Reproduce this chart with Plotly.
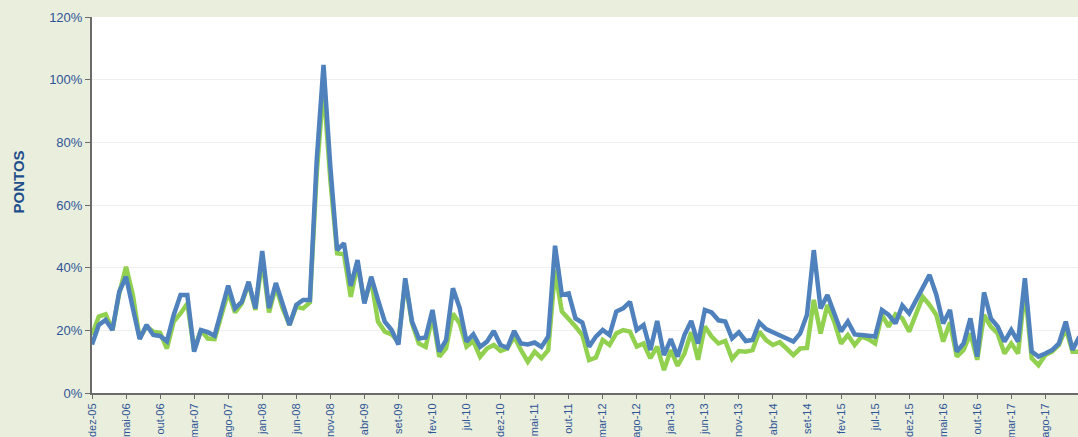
import plotly.graph_objects as go

# monthly series, dez-05 onwards (values in %)
month_names = ["jan", "fev", "mar", "abr", "mai", "jun",
               "jul", "ago", "set", "out", "nov", "dez"]
months = [f"{month_names[(11 + k) % 12]}-{(5 + (11 + k) // 12):02d}" for k in range(146)]

serie_verde = [
    18.5, 24.4, 25.1, 20.1, 31.8, 40.3, 31.3, 17.4, 21.2, 19.6,
    19.2, 14.2, 22.8, 25.4, 28.6, 13.7, 20.1, 17.4, 17.2, 24.9,
    32.3, 25.7, 28.6, 35.0, 26.5, 42.5, 25.7, 33.9, 27.0, 21.7,
    27.5, 27.0, 28.9, 70.0, 98.0, 68.0, 44.6, 44.3, 30.7, 41.1,
    29.0, 36.1, 22.8, 19.6, 18.7, 16.4, 35.6, 22.2, 15.8, 14.7,
    24.5, 11.6, 14.3, 25.4, 22.2, 14.8, 16.6, 11.6, 14.2, 15.3,
    13.4, 14.2, 18.0, 13.7, 10.0, 13.2, 11.1, 13.7, 39.3, 26.0,
    23.7, 21.2, 18.5, 10.5, 11.3, 16.9, 15.3, 19.0, 20.1, 19.6,
    14.8, 15.8, 11.1, 14.8, 7.3, 13.7, 8.7, 12.6, 19.4, 10.6,
    21.2, 18.0, 15.8, 16.6, 10.9, 13.4, 13.2, 13.7, 19.6, 16.9,
    15.3, 16.2, 14.2, 12.1, 14.2, 14.4, 29.7, 19.0, 28.1, 22.8,
    15.8, 18.5, 15.3, 18.0, 17.2, 15.8, 24.9, 21.2, 25.1, 23.8,
    19.6, 24.9, 30.7, 28.1, 24.9, 16.4, 22.5, 11.6, 13.7, 19.0,
    10.6, 24.9, 21.2, 19.0, 12.6, 15.8, 12.6, 33.0, 11.1, 8.9,
    12.1, 13.2, 15.3, 20.6, 13.2, 13.2,
]

serie_azul = [
    15.5, 21.7, 23.3, 20.1, 32.3, 37.1, 27.0, 17.2, 21.7, 18.5,
    18.2, 16.5, 24.9, 31.3, 31.3, 13.2, 20.1, 19.4, 18.3, 26.0,
    34.3, 27.0, 29.1, 35.5, 27.0, 45.3, 27.1, 35.1, 28.1, 21.7,
    28.1, 29.7, 29.7, 74.3, 104.7, 72.2, 45.6, 47.8, 34.2, 42.4,
    28.6, 37.1, 29.7, 22.8, 20.1, 15.5, 36.6, 22.8, 17.4, 17.7,
    26.5, 13.2, 16.9, 33.4, 27.1, 16.4, 18.7, 14.7, 16.4, 19.8,
    15.3, 14.4, 19.8, 15.8, 15.5, 16.1, 14.7, 18.0, 47.0, 31.3,
    31.8, 23.8, 22.5, 14.8, 18.0, 20.1, 18.5, 26.0, 27.0, 29.1,
    20.1, 21.7, 13.7, 23.0, 12.1, 17.2, 11.6, 18.5, 23.0, 15.8,
    26.5, 25.7, 23.2, 22.8, 17.4, 19.4, 16.6, 16.9, 22.5, 20.4,
    19.4, 18.5, 17.4, 16.4, 19.0, 25.0, 45.6, 27.0, 31.3, 24.9,
    19.6, 22.8, 18.7, 18.5, 18.3, 18.0, 26.5, 24.9, 22.2, 27.9,
    25.4, 29.7, 33.9, 37.7, 31.3, 22.2, 26.5, 13.2, 15.8, 23.8,
    11.6, 32.1, 23.8, 21.2, 16.4, 20.1, 16.4, 36.6, 13.2, 11.6,
    12.6, 13.7, 15.8, 22.8, 13.7, 18.0,
]

tick_labels = months[::5]

verde = "#92d050"
azul = "#4f81bd"
texto = "#2e5597"
fundo = "#eaeedd"

fig = go.Figure()
fig.add_trace(go.Scatter(x=months, y=[v / 100 for v in serie_verde], mode="lines",
                         line=dict(color=verde, width=4.5), showlegend=False))
fig.add_trace(go.Scatter(x=months, y=[v / 100 for v in serie_azul], mode="lines",
                         line=dict(color=azul, width=4.5), showlegend=False))

fig.update_layout(
    width=1078, height=437,
    margin=dict(l=92, r=0, t=17, b=44),
    paper_bgcolor=fundo,
    plot_bgcolor="white",
    font=dict(family="Liberation Sans, Arial", color=texto, size=12),
)
fig.update_xaxes(
    type="category",
    range=[0, 144.8],
    tickmode="array", tickvals=tick_labels, ticktext=tick_labels,
    tickangle=-90, tickfont=dict(size=11, color=texto),
    showline=True, linecolor="#6b6b6b", linewidth=2,
    ticks="outside", ticklen=4, tickcolor="#6b6b6b",
    showgrid=False, automargin=False,
)
fig.update_yaxes(
    range=[0, 1.2], dtick=0.2, tickformat=".0%",
    tickfont=dict(size=13, color=texto),
    showline=True, linecolor="#6b6b6b", linewidth=2,
    ticks="outside", ticklen=5, tickcolor="#6b6b6b",
    showgrid=True, gridcolor="#efefef", gridwidth=1,
    zeroline=False, automargin=False,
)
# y-axis title sits a little above the middle of the axis
fig.add_annotation(
    text="<b>PONTOS</b>", textangle=-90, showarrow=False,
    xref="paper", yref="paper", x=0, y=0.56, xshift=-74,
    xanchor="center", yanchor="middle",
    font=dict(size=15, color="#1f4e8c"),
)

fig.write_html(
    "out.html",
    config={"displayModeBar": False},
    post_script="document.body.style.margin='0';document.body.style.background='%s';" % fundo,
)
